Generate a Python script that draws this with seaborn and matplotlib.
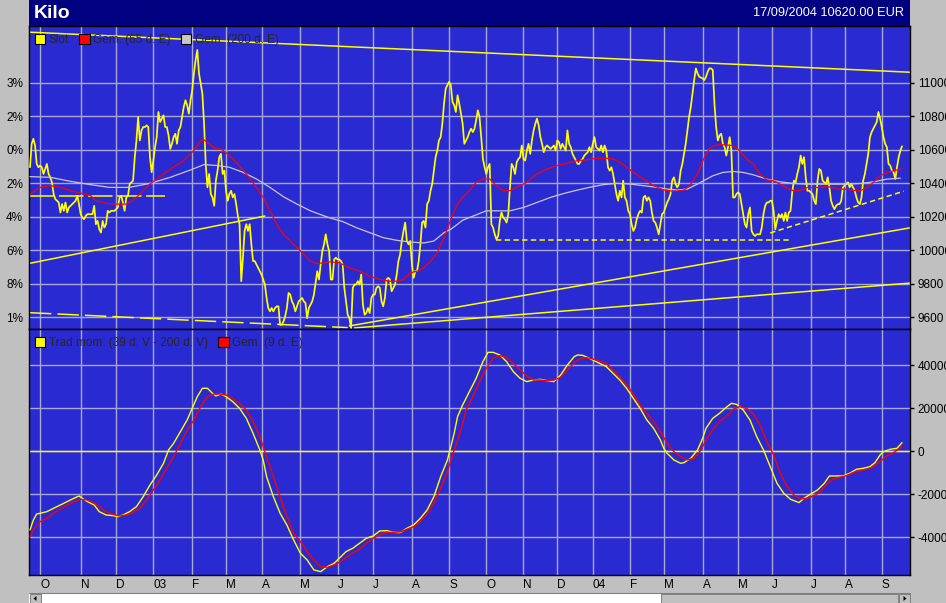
import matplotlib
matplotlib.use("Agg")
import matplotlib.pyplot as plt
import pandas as pd
import seaborn as sns
from matplotlib.patches import Patch, Rectangle, Polygon
from matplotlib.lines import Line2D

# ---------------- data (trading-day number since 23/09/2002) ----------------
slot = [
    10495, 10635, 10665, 10625, 10515, 10495, 10505, 10495, 10455, 10485,
    10515, 10455, 10435, 10405, 10335, 10305, 10295, 10285, 10225, 10275,
    10235, 10285, 10225, 10255, 10265, 10275, 10285, 10295, 10325, 10275,
    10215, 10195, 10185, 10205, 10215, 10215, 10215, 10215, 10265, 10155,
    10175, 10125, 10105, 10175, 10135, 10155, 10235, 10225, 10235, 10235,
    10235, 10245, 10255, 10315, 10325, 10285, 10235, 10315, 10325, 10395,
    10405, 10415, 10555, 10655, 10795, 10655, 10715, 10735, 10735, 10745,
    10735, 10555, 10465, 10535, 10615, 10675, 10825, 10765, 10785, 10805,
    10735, 10735, 10685, 10605, 10635, 10675, 10695, 10635, 10715, 10735,
    10795, 10855, 10895, 10865, 10815, 10895, 10955, 11055, 11135, 11195,
    11055, 10995, 10935, 10755, 10515, 10375, 10455, 10335, 10315, 10265,
    10415, 10475, 10555, 10575, 10455, 10475, 10355, 10295, 10335, 10355,
    10315, 10335, 10275, 10205, 10155, 9815, 9955, 10115, 10155, 10115,
    10155, 10035, 9935, 9935, 9915, 9895, 9875, 9855, 9825, 9795,
    9715, 9655, 9635, 9655, 9635, 9655, 9665, 9665, 9555, 9555,
    9575, 9605, 9655, 9745, 9735, 9695, 9675, 9635, 9665, 9695,
    9705, 9715, 9695, 9685, 9595, 9655, 9675, 9695, 9735, 9805,
    9875, 9825, 9915, 9995, 10035, 10095, 10035, 9995,
    9825, 9825, 9945, 9955, 9945, 9945, 9935, 9915, 9775, 9695,
    9615, 9595, 9535, 9775, 9795, 9795, 9815, 9795, 9855, 9675,
    9615, 9625, 9655, 9625, 9715, 9735, 9735, 9775, 9785, 9775,
    9695, 9665, 9715, 9825, 9835, 9825, 9755, 9775, 9795, 9855,
    9935, 9975, 10055, 10115, 10165, 10055, 10035, 10055, 9915, 9835,
    9875, 9875, 9935, 10035, 10165, 10175, 10135, 10275, 10295, 10355,
    10395, 10475, 10555, 10595, 10655, 10675, 10755, 10875, 10965, 10985,
    11005, 10985, 10885, 10865, 10825, 10925, 10875, 10815, 10755, 10635,
    10655, 10675, 10705, 10725, 10705, 10725, 10775, 10835, 10795, 10675,
    10545, 10495, 10455, 10495, 10515, 10155, 10135, 10095, 10065, 10085,
    10175, 10225, 10195, 10185, 10165, 10215, 10375, 10515, 10495, 10455,
    10525, 10545, 10555, 10625, 10545, 10535, 10595, 10635, 10575, 10655,
    10715, 10755, 10785, 10745, 10675, 10635, 10585, 10615, 10625, 10615,
    10605, 10615, 10625, 10595, 10655, 10645, 10605, 10635, 10615, 10595,
    10715, 10635, 10615, 10575, 10555, 10535, 10515, 10515, 10535, 10545,
    10565, 10575, 10585, 10615, 10585, 10635, 10675, 10615, 10605, 10595,
    10625, 10585, 10625, 10595, 10495, 10475, 10495, 10455, 10395, 10335,
    10295, 10355, 10315, 10415, 10315, 10295, 10235, 10215, 10155, 10115,
    10135, 10185, 10215, 10235, 10225, 10315, 10325, 10295, 10315, 10295,
    10225, 10175, 10165, 10135, 10095, 10155, 10215, 10225, 10255, 10285,
    10305, 10335, 10415, 10435, 10395, 10375, 10395, 10475, 10515, 10575,
    10635, 10715, 10795, 10855, 10935, 11015, 11085, 11055,
    11035, 11030, 11025, 11015, 11035, 11065, 11085, 11085, 11075, 10875,
    10735, 10655, 10685, 10695, 10635, 10615, 10565, 10615, 10675, 10595,
    10315, 10315, 10335, 10345, 10335, 10275, 10215, 10155, 10135, 10215,
    10255, 10115, 10095, 10085, 10095, 10095, 10095, 10135, 10215, 10265,
    10285, 10285, 10295, 10295, 10235, 10125, 10175, 10215, 10195, 10215,
    10175, 10225, 10175, 10225, 10235, 10345, 10415, 10405, 10455, 10495,
    10565, 10515, 10555, 10435, 10355, 10355, 10345, 10335, 10295, 10275,
    10415, 10485, 10475, 10415, 10405, 10395, 10435, 10375, 10295, 10265,
    10245, 10265, 10275, 10275, 10295, 10375, 10385, 10395, 10405, 10375,
    10395, 10375, 10355, 10315, 10285, 10275, 10315, 10415, 10455, 10515,
    10575, 10675, 10705, 10725, 10745, 10765, 10825, 10785, 10735, 10675,
    10635, 10615, 10515, 10505, 10475, 10465, 10425, 10495, 10555, 10595,
    10620,
]

ema65_day = [0, 6, 12, 18, 24, 30, 36, 39, 45, 51, 57, 61, 65, 71, 79, 85, 91, 97, 101, 103,
             107, 110, 113, 118, 123, 128, 134, 138, 142, 146, 150, 154, 158, 162, 166, 170, 174, 178,
             183, 189, 195, 201, 207, 213, 217, 221, 225, 229, 233, 237, 241, 245, 249, 253, 256, 260,
             264, 268, 272, 276, 280, 284, 288, 294, 300, 306, 312, 318, 324, 329, 335, 341, 345, 349,
             353, 357, 363, 369, 375, 381, 387, 391, 395, 399, 402, 405, 408, 412, 416, 420, 424, 428,
             432, 436, 440, 444, 448, 452, 456, 460, 464, 467, 471, 475, 479, 483, 487, 491, 495, 499,
             503, 507, 511, 515, 516]
ema65_val = [10335, 10375, 10385, 10375, 10355, 10341, 10325, 10295, 10279, 10275, 10275, 10295, 10335,
             10395, 10455, 10495, 10535, 10595, 10655, 10659, 10625, 10605, 10605, 10565, 10515, 10455,
             10375, 10315, 10235, 10155, 10095, 10055, 10015, 9975, 9935, 9921, 9925, 9931,
             9925, 9895, 9875, 9845, 9825, 9815, 9815, 9825, 9865, 9875, 9895, 9935, 9985, 10075, 10185,
             10275, 10315, 10355, 10405, 10425, 10425, 10385, 10355, 10355, 10375, 10405, 10455, 10485,
             10505, 10519, 10535, 10539, 10549, 10549, 10545, 10525, 10495, 10465, 10425, 10385, 10359,
             10351, 10359, 10395, 10455, 10554, 10604, 10624, 10630, 10628, 10624, 10594, 10544, 10514,
             10454, 10420, 10414, 10394, 10370, 10354, 10358, 10374, 10374, 10374, 10380, 10374, 10364,
             10364, 10358, 10354, 10374, 10404, 10444, 10464, 10474, 10484, 10490]

ema200_day = [0, 12, 24, 36, 47, 59, 71, 83, 95, 103, 111, 118, 126, 134, 142, 150, 158, 166, 174,
              178, 185, 193, 201, 209, 217, 225, 233, 239, 245, 249, 253, 256, 264, 270, 276, 284, 292,
              300, 308, 316, 324, 331, 339, 347, 355, 363, 371, 377, 383, 389, 395,
              404, 410, 416, 422, 428, 436, 444, 452, 460, 467, 475, 483, 491, 499, 507, 515]
ema200_val = [10439, 10435, 10411, 10391, 10375, 10375, 10399, 10435, 10479, 10511, 10505, 10495, 10465,
              10425, 10375, 10319, 10275, 10235, 10205,
              10191, 10171, 10135, 10105, 10075, 10059, 10049, 10043, 10055, 10105, 10125, 10155, 10179,
              10211, 10235, 10235, 10235, 10255, 10285, 10315, 10339, 10359, 10375, 10391, 10399, 10395,
              10385, 10375, 10365, 10359, 10365, 10395,
              10444, 10464, 10470, 10464, 10450, 10424, 10408, 10398, 10394, 10394, 10394, 10394, 10398,
              10408, 10424, 10430]

mom_day = [0, 1, 2, 4, 6, 10, 14, 18, 22, 26, 29, 31, 34, 38, 41, 45, 49, 52, 55, 59, 63, 67, 71, 75,
           79, 82, 85, 89, 93, 96, 99, 102, 105, 108, 110, 113, 116, 120, 124, 128, 132, 136, 138, 140,
           144, 148, 152, 156,
           160, 164, 168, 172, 176, 180, 183, 187, 191, 195, 199, 203, 207, 211, 215, 219, 223, 227, 231,
           235, 239, 243, 247, 249, 251, 253, 256, 260, 264, 268, 271, 274, 278, 282, 286, 290, 294, 298,
           302, 306, 310, 314, 318, 322, 324, 327, 331, 335,
           341, 345, 349, 353, 357, 361, 365, 369, 373, 375, 377, 381, 385, 387, 391, 395, 398, 400, 404,
           408, 412, 415, 418, 422, 426, 430, 434, 438, 442, 446, 450, 455, 458, 462, 466, 470, 473, 477,
           481, 485, 489, 493, 497, 500, 503, 505, 509, 513, 516]
mom_val = [-36580, -34255, -31930, -29140, -28830, -28055, -26505, -24955, -23405, -21855, -20770, -21855,
           -23405, -24955, -28055, -29605, -29915, -30380, -29605, -28055, -25730, -21080, -15655, -11005,
           -5580, 625, 3720, 9145, 14570, 19995, 25420, 29295, 29295, 26970, 25730, 26660, 25420, 23095,
           19995, 15345, 8370, 620, -4030, -11780, -21080, -28830, -34255, -41230,
           -47430, -50530, -55180, -55955, -53630, -52080, -49755, -46655, -45105, -42780, -40455, -39370,
           -37045, -36890, -37665, -37820, -35805, -34255, -31155, -27280, -21080, -11780, -4030, 2170,
           8370, 16120, 21545, 27745, 33945, 41695, 46035, 46035, 44795, 41695, 37045, 33945, 32395, 33170,
           33480, 32860, 32395, 35495, 40145, 44020, 44795, 44640, 43245, 41695,
           39370, 36270, 33170, 29295, 24645, 19995, 14570, 10695, 5270, 1395, -930, -4030, -5580, -5270,
           -3255, 620, 6045, 10695, 15345, 17670, 20460, 22320, 21855, 19220, 14570, 6820, 620, -7130,
           -14880, -19530, -22320, -23870, -21855, -19840, -17980, -14880, -11470, -11470, -11470, -10230,
           -8370, -7905, -7130, -5270, -1705, -155, 930, 1395, 4030]

sig_day = [0, 2, 6, 10, 14, 18, 22, 26, 30, 34, 38, 41, 45, 49, 53, 57, 61, 65, 69, 73, 77, 81, 85, 89,
           93, 97, 101, 105, 109, 112, 116, 120, 124, 128, 132, 136, 140, 144, 148, 152, 156,
           160, 164, 168, 172, 176, 180, 184, 187, 191, 195, 199, 203, 207, 211, 215, 219, 223, 227, 231,
           235, 239, 243, 247, 251, 255, 258, 262, 266, 270, 274, 278, 282, 286, 290, 294, 298, 302, 306,
           310, 314, 318, 322, 326, 329, 333,
           341, 345, 349, 353, 357, 361, 365, 369, 373, 377, 381, 385, 389, 393, 397, 400, 404, 408, 412,
           416, 420, 424, 428, 432, 436, 440, 444, 448, 452, 456, 460, 464, 468, 471, 475, 479, 483, 487,
           491, 495, 499, 503, 507, 511, 516]
sig_val = [-39680, -36580, -32705, -31155, -28830, -26815, -24955, -23405, -22320, -22630, -24180, -25730,
           -28055, -29295, -30070, -29605, -28520, -26505, -22630, -17980, -13330, -7905, -2480, 3720, 9920,
           14570, 20770, 25420, 26660, 26660, 26195, 24645, 22320, 19220, 13795, 6820, -2480, -11780,
           -21080, -30380, -38130,
           -42005, -46655, -50530, -53630, -53940, -52855, -51305, -49290, -47430, -45570, -42780, -40455,
           -38905, -37665, -37665, -37510, -36270, -35030, -32705, -29140, -24180, -17205, -9455, 625, 9920,
           19220, 25420, 32395, 38595, 43245, 44485, 43710, 40920, 37820, 35030, 33170, 33170, 32860, 33170,
           34410, 37820, 41230, 43245, 43555, 42935,
           40920, 37820, 34720, 30845, 26660, 21545, 17670, 13795, 9145, 3720, -155, -2480, -4030, -3255,
           620, 5270, 9920, 13795, 16120, 19530, 20770, 19995, 17360, 12245, 4495, -1705, -10230, -16430,
           -20305, -22165, -21855, -20615, -18755, -15655, -13020, -12090, -11315, -9920, -8990, -8370,
           -7130, -4805, -2170, -620, 2170]

# hand-drawn trend lines on the price panel: (days, prices)
trend_top_day, trend_top_val = [0, 521], [11301, 11062]
trend_up_left_day, trend_up_left_val = [0, 139], [9922, 10204]
trend_long_a_day, trend_long_a_val = [189, 521], [9548, 10134]
trend_long_b_day, trend_long_b_val = [192, 521], [9536, 9804]
trend_low_left_day, trend_low_left_val = [0, 188], [9627, 9538]
support_left_day, support_left_val = [0, 80], [10324, 10324]
support_mid_day, support_mid_val = [276, 449], [10063, 10063]
support_rise_day, support_rise_val = [438, 517], [10103, 10352]

month_start_day = [6, 30, 51, 73, 96, 116, 137, 160, 182, 203, 226, 248,
                   270, 292, 312, 333, 355, 375, 398, 419, 439, 462, 482, 504]
month_labels = ["O", "N", "D", "03", "F", "M", "A", "M", "J", "J", "A", "S",
                "O", "N", "D", "04", "F", "M", "A", "M", "J", "J", "A", "S"]
price_ticks = [11000, 10800, 10600, 10400, 10200, 10000, 9800, 9600]
price_left_labels = ["3%", "2%", "0%", "2%", "4%", "6%", "8%", "1%"]
price_right_labels = ["11000", "10800", "10600", "10400", "10200", "10000", "9800", "9600"]
mom_ticks = [40000, 20000, 0, -20000, -40000]
mom_labels = ["40000", "20000", "0", "-20000", "-40000"]

# ---------------- style ----------------
sns.set_style("white")
plt.rcParams['font.family'] = ['Liberation Sans', 'DejaVu Sans']
plt.rcParams['axes.linewidth'] = 0.8

FIG_BG = '#c0c0c0'
PANEL = '#2a2ad2'
GRID = '#a8a8d8'
YEL = '#ffff00'
RED = '#ff0000'
GRAY = '#c8c8c8'
FS = 8.5

W, H = 946, 603
fig = plt.figure(figsize=(W / 100, H / 100), dpi=100, facecolor=FIG_BG)


def fx(px):
    return px / W


def fy(py):
    return 1 - py / H


L, R = 29.3, 910.0
T1, B1, B2 = 26.0, 329.3, 575.0
ax1 = fig.add_axes([fx(L), fy(B1), fx(R) - fx(L), fy(T1) - fy(B1)])
ax2 = fig.add_axes([fx(L), fy(B2), fx(R) - fx(L), fy(B1) - fy(B2)], sharex=ax1)

for ax in (ax1, ax2):
    ax.set_facecolor(PANEL)
    ax.set_axisbelow(True)
    for s in ax.spines.values():
        s.set_color('black')
        s.set_linewidth(1.0)

# ---------------- upper panel ----------------
def line(ax, x, y, color, lw, ls='-', z=2):
    df = pd.DataFrame({'x': x, 'y': y})
    sns.lineplot(data=df, x='x', y='y', ax=ax, color=color, linewidth=lw,
                 linestyle=ls, estimator=None, legend=False, zorder=z)


line(ax1, trend_top_day, trend_top_val, YEL, 1.1)
line(ax1, trend_up_left_day, trend_up_left_val, YEL, 1.1)
line(ax1, trend_long_a_day, trend_long_a_val, YEL, 1.1)
line(ax1, trend_long_b_day, trend_long_b_val, YEL, 1.1)
line(ax1, trend_low_left_day, trend_low_left_val, YEL, 1.1, (0, (14, 4)))
line(ax1, support_left_day, support_left_val, YEL, 1.1, (0, (16, 3)))
line(ax1, support_mid_day, support_mid_val, YEL, 1.1, (0, (3.5, 2.2)))
line(ax1, support_rise_day, support_rise_val, YEL, 1.1, (0, (3.5, 2.2)))

line(ax1, list(range(len(slot))), slot, YEL, 1.25, z=3)
line(ax1, ema200_day, ema200_val, GRAY, 0.9, z=4)
line(ax1, ema65_day, ema65_val, RED, 0.9, z=5)

ax1.set_xlim(-0.4, 520.7)
ax1.set_ylim(9528, 11338)
ax1.set_xticks(month_start_day)
ax1.grid(True, color=GRID, linewidth=1.0)
ax1.set_yticks(price_ticks)
ax1.yaxis.tick_right()
ax1.set_yticklabels(price_right_labels)
ax1.tick_params(axis='y', direction='out', length=3, width=1, pad=2.5,
                labelsize=FS, colors='black')
ax1.tick_params(axis='x', length=0, labelbottom=False)
ax1.set_xlabel('')
ax1.set_ylabel('')

sec = ax1.secondary_yaxis('left')
sec.set_yticks(price_ticks, labels=price_left_labels)
sec.tick_params(length=0, pad=4.5, labelsize=FS, colors='black')

h1 = [Patch(facecolor=YEL, edgecolor='black', linewidth=0.8, label='Slot'),
      Patch(facecolor=RED, edgecolor='black', linewidth=0.8, label='Gem. (65 d. E)'),
      Patch(facecolor=GRAY, edgecolor='black', linewidth=0.8, label='Gem. (200 d. E)')]
leg1 = ax1.legend(handles=h1, loc='upper left', bbox_to_anchor=(0.0060, 0.974), ncol=3,
                  frameon=False, fontsize=FS, handlelength=0.9, handleheight=0.9,
                  handletextpad=0.3, columnspacing=0.85, borderpad=0, borderaxespad=0)
leg1.set_zorder(10)

# ---------------- lower panel ----------------
ax2.axhline(0, color=YEL, linewidth=1.0, zorder=1.5)
line(ax2, mom_day, mom_val, YEL, 1.0, z=3)
line(ax2, sig_day, sig_val, RED, 1.0, z=4)

ax2.set_ylim(-57530, 56740)
ax2.set_yticks(mom_ticks)
ax2.yaxis.tick_right()
ax2.set_yticklabels(mom_labels)
ax2.grid(True, color=GRID, linewidth=1.0)
ax2.tick_params(axis='y', direction='out', length=3, width=1, pad=2.5,
                labelsize=FS, colors='black')
ax2.set_xticks(month_start_day)
ax2.set_xticklabels(month_labels, ha='left')
ax2.tick_params(axis='x', length=0, pad=3, labelsize=FS, colors='black')
ax2.set_xlabel('')
ax2.set_ylabel('')

h2 = [Patch(facecolor=YEL, edgecolor='black', linewidth=0.8, label='Trad.mom. (39 d. V - 200 d. V)'),
      Patch(facecolor=RED, edgecolor='black', linewidth=0.8, label='Gem. (9 d. E)')]
leg2 = ax2.legend(handles=h2, loc='upper left', bbox_to_anchor=(0.0060, 0.968), ncol=2,
                  frameon=False, fontsize=FS, handlelength=0.9, handleheight=0.9,
                  handletextpad=0.3, columnspacing=0.85, borderpad=0, borderaxespad=0)
leg2.set_zorder(10)

# ---------------- title bar ----------------
fig.add_artist(Rectangle((fx(L), fy(T1)), fx(R) - fx(L), fy(0) - fy(T1),
                         transform=fig.transFigure, facecolor='#000080', edgecolor='none'))
fig.text(fx(34), fy(13.5), 'Kilo', color='white', fontsize=14, fontweight='bold',
         ha='left', va='center')
fig.text(fx(904), fy(13.5), '17/09/2004 10620.00 EUR', color='white', fontsize=9.2,
         ha='right', va='center')

# ---------------- scrollbar ----------------
def frect(x0, y0, x1, y1, fc, ec='none', lw=0.0):
    fig.add_artist(Rectangle((fx(x0), fy(y1)), fx(x1) - fx(x0), fy(y0) - fy(y1),
                             transform=fig.transFigure, facecolor=fc, edgecolor=ec, linewidth=lw))


frect(L, 592.5, R, 603, 'white')
fig.add_artist(Line2D([fx(L), fx(R)], [fy(592.5), fy(592.5)], transform=fig.transFigure,
                      color='#808080', linewidth=0.8))
frect(L + 0.5, 593.5, 41, 603, FIG_BG, '#808080', 0.7)
frect(661, 593.5, 898, 603, FIG_BG, '#808080', 0.7)
frect(899, 593.5, R, 603, FIG_BG, '#808080', 0.7)
fig.add_artist(Polygon([[fx(33.5), fy(598.5)], [fx(36.5), fy(596)], [fx(36.5), fy(601)]],
                       closed=True, transform=fig.transFigure, facecolor='black', edgecolor='none'))
fig.add_artist(Polygon([[fx(906.5), fy(598.5)], [fx(903.5), fy(596)], [fx(903.5), fy(601)]],
                       closed=True, transform=fig.transFigure, facecolor='black', edgecolor='none'))

fig.savefig('out.png', dpi=100, facecolor=FIG_BG)
